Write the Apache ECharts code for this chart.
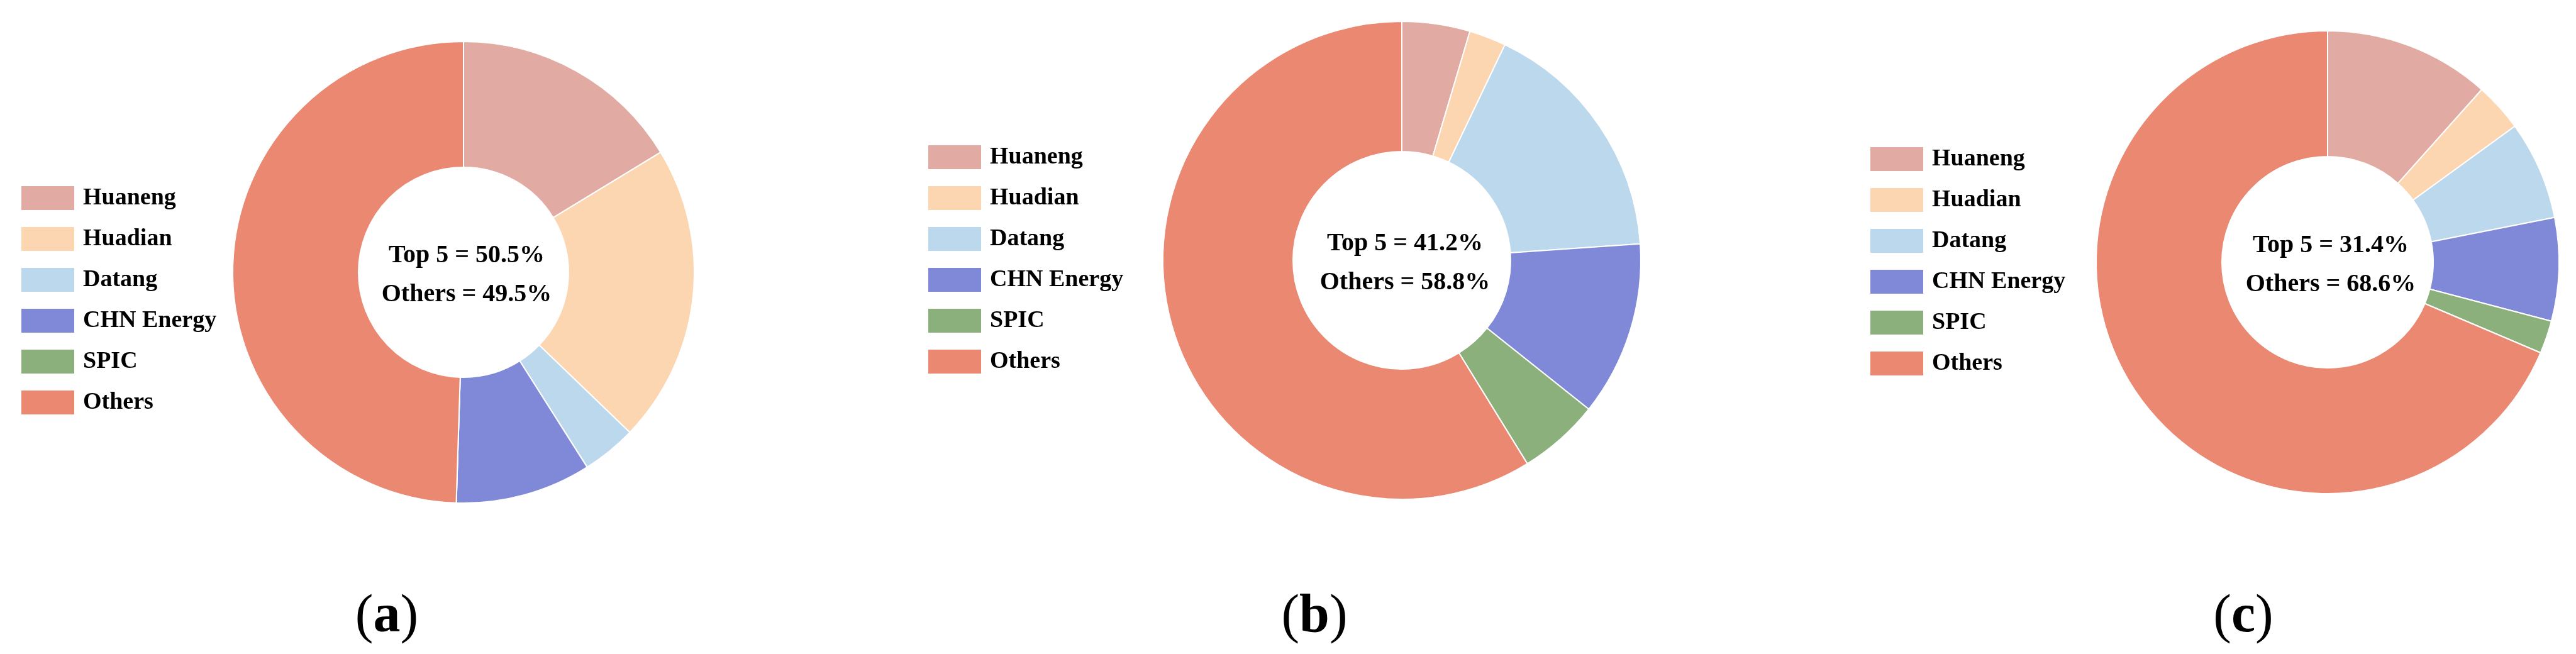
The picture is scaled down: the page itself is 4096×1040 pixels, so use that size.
<!DOCTYPE html>
<html>
<head>
<meta charset="utf-8">
<title>Top 5 share</title>
<script src="https://cdn.jsdelivr.net/npm/echarts@6/dist/echarts.min.js"></script>
<style>
  html, body { margin: 0; padding: 0; background: #fff; }
  #chart { width: 4096px; height: 1040px; }
</style>
</head>
<body>
<div id="chart"></div>
<script>
// companies and colours
const companies = ['Huaneng', 'Huadian', 'Datang', 'CHN Energy', 'SPIC', 'Others'];
const colors = ['#E1ABA3', '#FCD6B0', '#BCD8EC', '#8089D8', '#8BB07C', '#EA8872'];

// shares (%) read from the three donuts
const sharesA = [16.3, 20.9, 3.8, 9.5, 0, 49.5];
const sharesB = [4.6, 2.5, 16.8, 11.8, 5.5, 58.8];
const sharesC = [11.6, 3.4, 6.9, 7.2, 2.3, 68.6];

const panelLetters = ['a', 'b', 'c'];

// layout of each panel
const panels = [
  { shares: sharesA, center: [737, 433], radius: [167, 367], legend: [27, 289], legendGap: 23, label: [610, 977] },
  { shares: sharesB, center: [2229, 414], radius: [173, 380], legend: [1469, 224], legendGap: 23, label: [2085, 977] },
  { shares: sharesC, center: [3701, 417], radius: [168, 368], legend: [2967, 227], legendGap: 23, label: [3562, 977] }
];

const serif = '"Liberation Serif", "Times New Roman", serif';

function top5(shares) {
  let s = 0;
  for (let i = 0; i < 5; i++) s += shares[i];
  return s.toFixed(1);
}

let series = [];
let legends = [];
let titles = [];

for (let p = 0; p < panels.length; p++) {
  let pan = panels[p];
  let data = [];
  for (let i = 0; i < companies.length; i++) {
    data.push({ name: companies[i], value: pan.shares[i], itemStyle: { color: colors[i] } });
  }
  series.push({
    type: 'pie',
    center: pan.center,
    radius: pan.radius,
    startAngle: 90,
    clockwise: true,
    silent: true,
    label: { show: false },
    labelLine: { show: false },
    itemStyle: { borderColor: '#fff', borderWidth: 2 },
    data: data
  });

  legends.push({
    orient: 'vertical',
    left: pan.legend[0],
    top: pan.legend[1],
    icon: 'rect',
    itemWidth: 86,
    itemHeight: 40,
    itemGap: pan.legendGap,
    selectedMode: false,
    data: companies,
    textStyle: {
      fontFamily: serif,
      fontWeight: 'bold',
      fontSize: 38,
      color: '#000',
      padding: [0, 0, 0, 8]
    }
  });

  // centre text
  titles.push({
    text: 'Top 5 = ' + top5(pan.shares) + '%\nOthers = ' + pan.shares[5].toFixed(1) + '%',
    left: pan.center[0],
    top: pan.center[1],
    textAlign: 'center',
    textVerticalAlign: 'middle',
    textStyle: {
      fontFamily: serif,
      fontWeight: 'bold',
      fontSize: 40,
      lineHeight: 62,
      color: '#000'
    }
  });

  // panel letter: plain brackets, bold letter
  titles.push({
    text: '{p|(}{b|' + panelLetters[p] + '}{p|)}',
    left: pan.label[0],
    top: pan.label[1],
    textAlign: 'center',
    textVerticalAlign: 'middle',
    textStyle: {
      fontWeight: 'normal',
      rich: {
        p: { fontFamily: serif, fontSize: 86, fontWeight: 'normal', color: '#000' },
        b: { fontFamily: serif, fontSize: 86, fontWeight: 'bold', color: '#000' }
      }
    }
  });
}

var chart = echarts.init(document.getElementById('chart'));
chart.setOption({
  backgroundColor: '#fff',
  animation: false,
  title: titles,
  legend: legends,
  series: series
});
</script>
</body>
</html>
